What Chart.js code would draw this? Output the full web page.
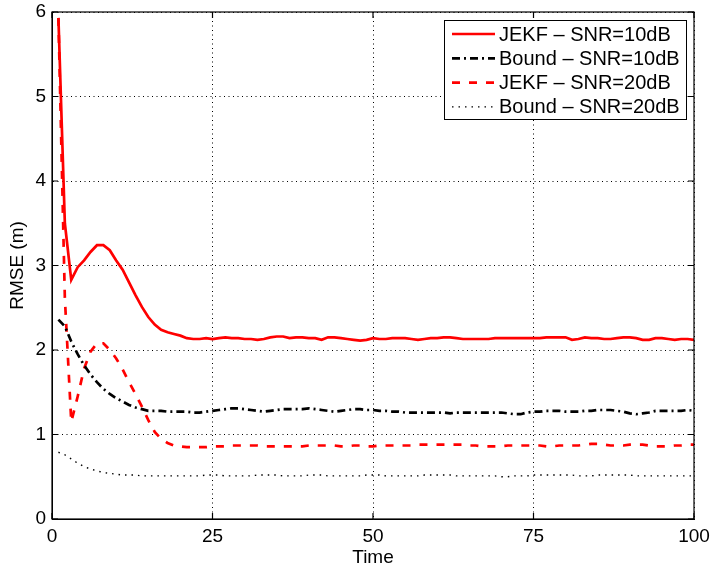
<!DOCTYPE html>
<html><head><meta charset="utf-8">
<script src="https://cdn.jsdelivr.net/npm/chart.js@4/dist/chart.umd.min.js"></script>
<style>html,body{margin:0;padding:0;background:#fff}#wrap{width:711px;height:567px}</style>
</head><body><div id="wrap"><canvas id="c" width="711" height="567"></canvas></div>
<script>
const time = [1,2,3,4,5,6,7,8,9,10,11,12,13,14,15,16,17,18,19,20,21,22,23,24,25,26,27,28,29,30,31,32,33,34,35,36,37,38,39,40,41,42,43,44,45,46,47,48,49,50,51,52,53,54,55,56,57,58,59,60,61,62,63,64,65,66,67,68,69,70,71,72,73,74,75,76,77,78,79,80,81,82,83,84,85,86,87,88,89,90,91,92,93,94,95,96,97,98,99,100];
const jekf10 = [5.93,3.50,2.83,2.98,3.06,3.16,3.24,3.24,3.18,3.06,2.95,2.80,2.65,2.51,2.39,2.30,2.24,2.21,2.19,2.17,2.14,2.13,2.13,2.14,2.13,2.14,2.15,2.14,2.14,2.13,2.13,2.12,2.13,2.15,2.16,2.16,2.14,2.15,2.15,2.14,2.14,2.12,2.15,2.15,2.14,2.13,2.12,2.11,2.12,2.14,2.13,2.13,2.14,2.14,2.14,2.13,2.12,2.13,2.14,2.14,2.15,2.15,2.14,2.13,2.13,2.13,2.13,2.13,2.14,2.14,2.14,2.14,2.14,2.14,2.14,2.14,2.15,2.15,2.15,2.15,2.12,2.13,2.15,2.14,2.14,2.13,2.13,2.14,2.15,2.15,2.14,2.12,2.12,2.14,2.14,2.13,2.12,2.13,2.13,2.12];
const bound10 = [2.36,2.28,2.10,1.95,1.82,1.71,1.62,1.54,1.48,1.43,1.39,1.35,1.32,1.30,1.28,1.28,1.28,1.27,1.27,1.27,1.27,1.26,1.26,1.27,1.28,1.29,1.30,1.31,1.31,1.30,1.29,1.28,1.27,1.28,1.29,1.30,1.30,1.30,1.30,1.31,1.30,1.29,1.28,1.27,1.28,1.29,1.30,1.30,1.29,1.29,1.28,1.28,1.27,1.27,1.26,1.26,1.26,1.26,1.26,1.26,1.26,1.25,1.26,1.26,1.26,1.26,1.26,1.26,1.26,1.26,1.25,1.24,1.24,1.26,1.27,1.27,1.28,1.28,1.28,1.27,1.27,1.27,1.28,1.28,1.29,1.29,1.29,1.28,1.27,1.25,1.24,1.25,1.26,1.28,1.28,1.28,1.28,1.28,1.29,1.28];
const jekf20 = [5.93,2.62,1.15,1.45,1.78,1.98,2.08,2.08,2.00,1.90,1.77,1.62,1.48,1.33,1.17,1.03,0.95,0.90,0.87,0.86,0.85,0.85,0.85,0.85,0.86,0.86,0.86,0.87,0.87,0.87,0.87,0.87,0.86,0.86,0.86,0.86,0.86,0.86,0.86,0.87,0.87,0.87,0.87,0.87,0.86,0.86,0.87,0.87,0.86,0.86,0.87,0.87,0.87,0.87,0.87,0.87,0.88,0.88,0.88,0.88,0.88,0.88,0.88,0.88,0.87,0.87,0.86,0.86,0.86,0.86,0.87,0.87,0.87,0.87,0.87,0.87,0.86,0.86,0.87,0.87,0.87,0.87,0.88,0.89,0.89,0.88,0.87,0.87,0.87,0.88,0.88,0.88,0.87,0.86,0.86,0.86,0.87,0.87,0.88,0.88];
const bound20 = [0.79,0.76,0.71,0.66,0.62,0.59,0.57,0.55,0.54,0.53,0.52,0.52,0.52,0.51,0.51,0.51,0.51,0.51,0.51,0.51,0.51,0.51,0.51,0.52,0.52,0.52,0.51,0.51,0.51,0.51,0.51,0.52,0.52,0.52,0.52,0.51,0.51,0.51,0.51,0.52,0.52,0.52,0.51,0.51,0.51,0.51,0.51,0.51,0.52,0.52,0.52,0.51,0.51,0.51,0.51,0.51,0.51,0.52,0.52,0.52,0.52,0.52,0.51,0.51,0.51,0.51,0.51,0.51,0.51,0.50,0.50,0.51,0.51,0.51,0.52,0.52,0.52,0.52,0.52,0.52,0.52,0.51,0.51,0.51,0.52,0.52,0.52,0.52,0.52,0.52,0.51,0.51,0.51,0.51,0.51,0.51,0.51,0.51,0.51,0.51];
const seriesNames = ['JEKF \u2013 SNR=10dB','Bound \u2013 SNR=10dB','JEKF \u2013 SNR=20dB','Bound \u2013 SNR=20dB'];
const xTicks = [0,25,50,75,100];
const yTicks = [0,1,2,3,4,5,6];

const FONT = 'Liberation Sans, Arial, Helvetica, sans-serif';
const pts = arr => time.map((t,i)=>({x:t,y:arr[i]}));

const styles = [
  {color:'#ff0000', width:2.7, dash:[]},
  {color:'#000000', width:2.7, dash:[8,4,2,4]},
  {color:'#ff0000', width:2.7, dash:[8,9]},
  {color:'#000000', width:1.4, dash:[1.5,5]}
];
const allData = [jekf10,bound10,jekf20,bound20];

const boxPlugin = {
  id:'box',
  afterDraw(chart){
    const {ctx, chartArea:a, scales} = chart;
    ctx.save();
    ctx.strokeStyle='#000'; ctx.lineWidth=1.2; ctx.setLineDash([]);
    ctx.strokeRect(a.left, a.top, a.right-a.left, a.bottom-a.top);
    const tl=6;
    ctx.beginPath();
    xTicks.forEach(v=>{const x=scales.x.getPixelForValue(v);
      ctx.moveTo(x,a.bottom);ctx.lineTo(x,a.bottom-tl);ctx.moveTo(x,a.top);ctx.lineTo(x,a.top+tl);});
    yTicks.forEach(v=>{const y=scales.y.getPixelForValue(v);
      ctx.moveTo(a.left,y);ctx.lineTo(a.left+tl,y);ctx.moveTo(a.right,y);ctx.lineTo(a.right-tl,y);});
    ctx.stroke();
    // legend
    const lx=444, ly=20, lw=242, lh=99;
    ctx.fillStyle='#fff'; ctx.fillRect(lx,ly,lw,lh);
    ctx.lineWidth=1; ctx.strokeRect(lx+0.5,ly+0.5,lw,lh);
    ctx.font='20px '+FONT; ctx.textBaseline='middle'; ctx.textAlign='left';
    chart.data.datasets.forEach((ds,i)=>{
      const y = ly+14+i*24.3;
      ctx.strokeStyle=ds.borderColor; ctx.lineWidth=ds.borderWidth; ctx.setLineDash(ds.borderDash||[]);
      ctx.beginPath(); ctx.moveTo(452,y); ctx.lineTo(495,y); ctx.stroke();
      ctx.setLineDash([]);
      ctx.fillStyle='#000'; ctx.fillText(ds.label, 499, y+1);
    });
    ctx.restore();
  }
};

new Chart(document.getElementById('c'), {
  type:'line',
  data:{datasets: allData.map((arr,i)=>({
    label:seriesNames[i], data:pts(arr), borderColor:styles[i].color, backgroundColor:styles[i].color,
    borderWidth:styles[i].width, borderDash:styles[i].dash, pointRadius:0, tension:0, fill:false,
    borderCapStyle:'butt'
  }))},
  options:{
    responsive:false, animation:false, devicePixelRatio:1,
    layout:{padding:{left:0,top:12,right:17,bottom:0}},
    plugins:{legend:{display:false}, tooltip:{enabled:false}},
    scales:{
      x:{type:'linear', min:0, max:100,
        afterBuildTicks(s){s.ticks = xTicks.map(v=>({value:v}));},
        afterFit(s){s.height=48; s.paddingLeft=0; s.paddingRight=0;},
        ticks:{color:'#000', font:{size:19, family:FONT}, padding:6, maxRotation:0, autoSkip:false},
        grid:{color:'#000', lineWidth:1, drawTicks:false},
        border:{display:true, color:'#000', dash:[1,3.5]},
        title:{display:true, text:'Time', color:'#000', font:{size:19, family:FONT}, padding:{top:0,bottom:-2}}
      },
      y:{type:'linear', min:0, max:6,
        afterBuildTicks(s){s.ticks = yTicks.map(v=>({value:v}));},
        afterFit(s){s.width=52; s.paddingTop=0; s.paddingBottom=0;},
        ticks:{color:'#000', font:{size:19, family:FONT}, padding:6, autoSkip:false},
        grid:{color:'#000', lineWidth:1, drawTicks:false},
        border:{display:true, color:'#000', dash:[1,3.5]},
        title:{display:true, text:'RMSE (m)', color:'#000', font:{size:19, family:FONT}, padding:{top:6,bottom:0}}
      }
    }
  },
  plugins:[boxPlugin]
});
</script></body></html>
